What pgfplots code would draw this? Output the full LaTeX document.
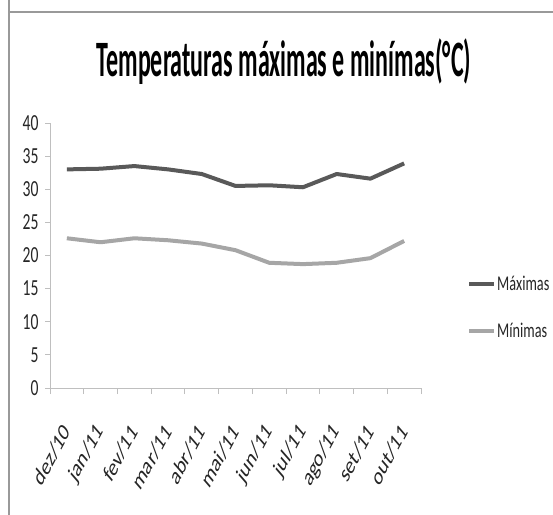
\documentclass[border=0pt]{standalone}
\usepackage{pgfplots}
\pgfplotsset{compat=1.18}
\usepackage{fontspec}
\setmainfont{Carlito}[FakeStretch=0.68]
\newfontfamily\titlef{Carlito}[FakeStretch=0.47]
\newfontfamily\plainf{Carlito}
\definecolor{maxc}{HTML}{595959}
\definecolor{minc}{HTML}{A6A6A6}
\definecolor{axc}{HTML}{BFBFBF}
\definecolor{txt}{HTML}{262626}
\begin{document}
\begin{tikzpicture}[x=1pt,y=1pt]
\useasboundingbox (0,0) rectangle (553,514);
\draw[color=gray!80, line width=1.2pt] (9,530) -- (9,502) -- (560,502);
\draw[color=gray!80, line width=1.2pt] (9,502) -- (9,-10);
\node[font=\titlef\fontsize{51}{51}\selectfont\bfseries, text=black, anchor=base, inner sep=0pt] at (284,437) {Temperaturas máximas e minímas(°C)};
\begin{axis}[
  scale only axis, width=371pt, height=265pt,
  at={(50pt,126pt)}, anchor=south west,
  xmin=0, xmax=11, ymin=0, ymax=40,
  axis lines*=left,
  axis line style={color=axc, line width=1pt},
  xtick={0.5,1.5,...,10.5},
  xticklabels={dez/10,jan/11,fev/11,mar/11,abr/11,mai/11,jun/11,jul/11,ago/11,set/11,out/11},
  minor xtick={0,1,...,11},
  ytick={0,5,...,40},
  major tick length=5pt,
  minor tick length=6pt,
  tick align=outside,
  tick style={color=axc, line width=1pt},
  major x tick style={draw=none},
  /pgf/number format/assume math mode=true,
  tick label style={font=\fontsize{23}{23}\selectfont, text=txt},
  yticklabel style={xshift=-3pt},
  xticklabel shift=34pt,
  xticklabel style={cm={0.419,0.788,-0.536,0.616,(0,0)}, anchor=east, inner sep=0pt,
    font=\plainf\fontsize{25}{25}\selectfont},
  legend style={at={(1.124,0.304)}, anchor=west, draw=none, fill=none,
    font=\fontsize{21}{21}\selectfont, text=txt, row sep=29pt, inner sep=0pt,
    nodes={inner sep=1pt}},
  legend cell align=left,
  legend image code/.code={\draw[#1, line width=4pt] (0pt,0pt) -- (25pt,0pt);},
  clip=false,
]
\addplot[color=maxc, line width=4pt, line join=round] coordinates {
 (0.5,33.0) (1.5,33.1) (2.5,33.5) (3.5,33.0) (4.5,32.3) (5.5,30.5)
 (6.5,30.6) (7.5,30.3) (8.5,32.3) (9.5,31.6) (10.5,33.9)};
\addlegendentry{Máximas}
\addplot[color=minc, line width=4pt, line join=round] coordinates {
 (0.5,22.6) (1.5,22.0) (2.5,22.6) (3.5,22.3) (4.5,21.8) (5.5,20.8)
 (6.5,18.9) (7.5,18.7) (8.5,18.9) (9.5,19.6) (10.5,22.2)};
\addlegendentry{Mínimas}
\end{axis}
\end{tikzpicture}
\end{document}
